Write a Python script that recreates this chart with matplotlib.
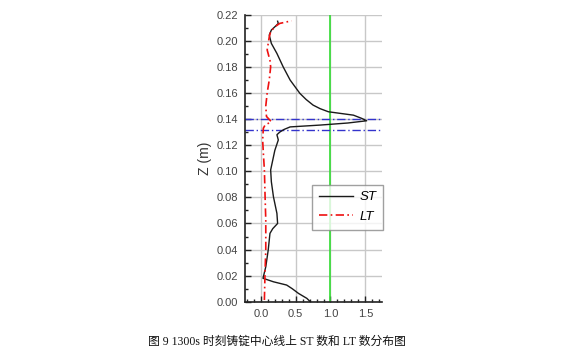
import matplotlib
matplotlib.use("Agg")
import matplotlib.pyplot as plt
from matplotlib.ticker import MultipleLocator

# ST number along centreline
st_z = [0.000, 0.0026, 0.0064, 0.0100, 0.0128, 0.0153, 0.018, 0.0268, 0.0396, 0.0524, 0.056,
        0.060, 0.0677, 0.0805, 0.092, 0.101, 0.1035, 0.116, 0.124, 0.128, 0.130, 0.132,
        0.134, 0.1354, 0.137, 0.1387, 0.1405, 0.143, 0.1456, 0.148, 0.1507, 0.155, 0.1597,
        0.1699, 0.180, 0.1903, 0.198, 0.2044, 0.2082, 0.2107, 0.2133, 0.2150]
st_v = [0.71, 0.66, 0.54, 0.45, 0.37, 0.18, 0.03, 0.07, 0.105, 0.13, 0.17,
        0.24, 0.23, 0.18, 0.15, 0.14, 0.15, 0.20, 0.25, 0.23, 0.27, 0.33,
        0.42, 0.85, 1.25, 1.52, 1.45, 1.33, 0.97, 0.85, 0.75, 0.65, 0.56,
        0.42, 0.32, 0.23, 0.15, 0.12, 0.15, 0.20, 0.25, 0.24]

# LT number along centreline
lt_z = [0.0013, 0.0243, 0.0396, 0.0626, 0.0805, 0.101, 0.114, 0.124, 0.133, 0.1354,
        0.138, 0.142, 0.150, 0.160, 0.170, 0.180, 0.185, 0.193, 0.198, 0.203, 0.207,
        0.2107, 0.2133, 0.2153]
lt_v = [0.05, 0.06, 0.07, 0.07, 0.06, 0.05, 0.035, 0.025, 0.035, 0.06,
        0.15, 0.08, 0.07, 0.09, 0.12, 0.14, 0.13, 0.09, 0.105, 0.12, 0.14,
        0.20, 0.27, 0.44]

h_lines = [0.140, 0.132]
v_line = 1.0
x_ticks = [0.0, 0.5, 1.0, 1.5]
y_ticks = [0.00, 0.02, 0.04, 0.06, 0.08, 0.10, 0.12, 0.14, 0.16, 0.18, 0.20, 0.22]
caption = "图 9 1300s 时刻铸锭中心线上 ST 数和 LT 数分布图"

fig = plt.figure(figsize=(5.63, 3.55), dpi=100)
ax = fig.add_axes([0.435, 0.150, 0.2435, 0.8086])

ax.grid(True, color="#c8c8c8", lw=1.0, zorder=0)
ax.set_axisbelow(True)
ax.axvline(v_line, color="#33dd33", lw=1.2, zorder=2)
for h in h_lines:
    ax.axhline(h, color="#3333cc", lw=1.0, ls=(0, (6, 2, 1, 2)), zorder=2)
ax.plot(st_v, st_z, color="#1a1a1a", lw=1.0, label="ST", zorder=3)
ax.plot(lt_v, lt_z, color="#ee1111", lw=1.2, ls=(0, (5, 2, 1, 2)), label="LT", zorder=3)

ax.set_xlim(-0.23, 1.74)
ax.set_ylim(0, 0.22)
ax.set_xticks(x_ticks)
ax.set_yticks(y_ticks)
ax.set_xticklabels([f"{v:.1f}" for v in x_ticks])
ax.set_yticklabels([f"{v:.2f}" for v in y_ticks])
ax.xaxis.set_minor_locator(MultipleLocator(0.1))
ax.yaxis.set_minor_locator(MultipleLocator(0.01))
ax.tick_params(which="both", direction="in", labelsize=8, colors="#222222",
               labelcolor="#444444", width=1.0)
ax.tick_params(which="major", length=4, pad=5)
ax.tick_params(which="minor", length=2.5)
for s in ["top", "right"]:
    ax.spines[s].set_visible(False)
for s in ["left", "bottom"]:
    ax.spines[s].set_linewidth(1.2)
    ax.spines[s].set_color("#222222")
for lbl in ax.get_xticklabels() + ax.get_yticklabels():
    lbl.set_family("Liberation Sans")

ax.set_ylabel("Z (m)", fontsize=10, family="Liberation Sans", color="#333333", labelpad=3)

leg = ax.legend(loc="upper left", bbox_to_anchor=(0.49, 0.408), frameon=True,
                fancybox=False, handlelength=2.6, handletextpad=0.5, borderpad=0.5,
                labelspacing=0.55, borderaxespad=0,
                prop={"family": "Liberation Sans", "style": "italic", "size": 9.5})
leg.get_frame().set_edgecolor("#888888")
leg.get_frame().set_linewidth(1.0)

fig.text(0.492, 0.037, caption, ha="center", va="center", fontsize=8.5,
         family=["Liberation Serif", "Noto Sans CJK SC"], color="#111111")

fig.savefig("out.png", dpi=100)
